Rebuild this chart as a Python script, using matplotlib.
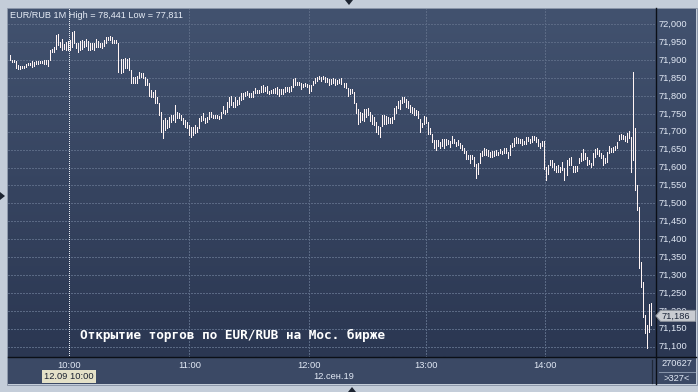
import numpy as np
import matplotlib
matplotlib.use('Agg')
import matplotlib.pyplot as plt
from matplotlib.patches import Polygon, Rectangle
from matplotlib.lines import Line2D
from matplotlib.transforms import blended_transform_factory, IdentityTransform

plt.rcParams['lines.scale_dashes'] = False

# ---------------- data (1-minute bars, EUR/RUB 12.09.19) ----------------
highs = [
    71914, 71900, 71900, 71897, 71886, 71884, 71884, 71884, 71888, 71893,
    71893, 71898, 71896, 71898, 71898, 71898, 71898, 71900, 71899, 71900,
    71928, 71930, 71936, 71970, 71973, 71951, 71960, 71944, 71950, 71954,
    71956, 71978, 71980, 71949, 71947, 71952, 71956, 71954, 71958, 71952,
    71949, 71947, 71949, 71958, 71952, 71949, 71947, 71956, 71964, 71965,
    71967, 71965, 71956, 71956, 71947, 71902, 71902, 71905, 71902, 71905,
    71872, 71854, 71852, 71856, 71868, 71863, 71865, 71854, 71846, 71837,
    71817, 71812, 71817, 71796, 71781, 71756, 71733, 71737, 71733, 71742,
    71747, 71747, 71775, 71756, 71751, 71747, 71737, 71733, 71728, 71719,
    71714, 71714, 71719, 71714, 71737,
    71744, 71753, 71737, 71742, 71756, 71756, 71747, 71747, 71747, 71744,
    71756, 71772, 71761, 71784, 71796, 71800, 71784, 71796, 71789, 71798,
    71809, 71807, 71812, 71815, 71809, 71809, 71815, 71821, 71817, 71817,
    71828, 71831, 71826, 71828, 71815, 71817, 71818, 71821, 71824, 71818,
    71818, 71818, 71824, 71824, 71824, 71828, 71847, 71849, 71840, 71840,
    71837, 71833, 71837, 71833, 71831, 71831, 71842, 71849, 71854, 71856,
    71852, 71856, 71854,
    71849, 71846, 71846, 71849, 71846, 71845, 71846, 71849, 71835, 71837,
    71821, 71818, 71818, 71812, 71779, 71763, 71756, 71751, 71763, 71763,
    71765, 71756, 71747, 71742, 71728, 71716, 71712, 71747, 71747, 71744,
    71740, 71737, 71742, 71765, 71772, 71787, 71789, 71798, 71798, 71791,
    71787, 71775,
    71768, 71765, 71761, 71759, 71735, 71725, 71744, 71742, 71728, 71710,
    71694, 71677, 71677, 71677, 71670, 71679, 71679, 71679, 71677, 71675,
    71688, 71679, 71672, 71677, 71668, 71663, 71656, 71647, 71635, 71635,
    71635, 71630, 71610, 71612, 71640, 71647, 71656, 71651, 71649, 71644,
    71647, 71647, 71649, 71644, 71651, 71647, 71654, 71656, 71644, 71663,
    71669, 71682, 71684, 71682, 71679, 71679, 71675, 71684, 71686, 71679,
    71688, 71688, 71686, 71679, 71669, 71675, 71675, 71601, 71607, 71621,
    71621, 71612, 71604, 71607, 71601, 71616, 71598, 71621, 71626, 71630,
    71604, 71604, 71604, 71628, 71640, 71651, 71640, 71629, 71621, 71612,
    71640, 71651, 71654, 71649, 71642, 71635, 71626, 71644, 71660, 71656,
    71658, 71660, 71672, 71691, 71694, 71691, 71688, 71696, 71703, 71686,
    71868, 71710, 71551, 71491, 71337, 71281, 71188, 71160, 71218, 71222,
]
lows = [
    71900, 71895, 71894, 71877, 71875, 71874, 71877, 71879, 71880, 71886,
    71886, 71880, 71884, 71888, 71888, 71891, 71891, 71890, 71890, 71884,
    71900, 71922, 71924, 71930, 71942, 71938, 71928, 71930, 71928, 71928,
    71928, 71938, 71947, 71933, 71924, 71928, 71930, 71938, 71939, 71928,
    71928, 71930, 71928, 71938, 71938, 71938, 71933, 71939, 71949, 71956,
    71956, 71947, 71947, 71947, 71866, 71865, 71868, 71877, 71879, 71872,
    71837, 71837, 71837, 71837, 71849, 71854, 71849, 71831, 71831, 71800,
    71798, 71796, 71779, 71779, 71747, 71700, 71682, 71705, 71710, 71714,
    71728, 71733, 71728, 71737, 71737, 71733, 71723, 71714, 71710, 71691,
    71686, 71691, 71696, 71700, 71710,
    71731, 71733, 71725, 71728, 71735, 71740, 71737, 71739, 71737, 71736,
    71737, 71751, 71750, 71756, 71770, 71775, 71768, 71770, 71774, 71777,
    71789, 71791, 71800, 71803, 71798, 71798, 71798, 71807, 71809, 71809,
    71812, 71812, 71815, 71807, 71805, 71807, 71809, 71809, 71805, 71801,
    71805, 71805, 71812, 71815, 71812, 71815, 71826, 71831, 71831, 71831,
    71818, 71824, 71828, 71826, 71809, 71815, 71831, 71835, 71843, 71846,
    71843, 71846, 71840,
    71840, 71831, 71833, 71837, 71831, 71833, 71835, 71833, 71826, 71821,
    71800, 71805, 71807, 71779, 71753, 71723, 71728, 71733, 71731, 71742,
    71747, 71731, 71723, 71719, 71700, 71694, 71686, 71716, 71723, 71723,
    71725, 71725, 71725, 71735, 71751, 71765, 71763, 71779, 71784, 71770,
    71765, 71756,
    71751, 71747, 71747, 71737, 71700, 71712, 71722, 71725, 71694, 71694,
    71670, 71656, 71649, 71660, 71654, 71660, 71656, 71663, 71666, 71658,
    71669, 71668, 71660, 71663, 71654, 71649, 71640, 71623, 71623, 71614,
    71623, 71604, 71570, 71582, 71614, 71632, 71635, 71635, 71632, 71630,
    71630, 71632, 71635, 71635, 71640, 71638, 71640, 71640, 71628, 71635,
    71658, 71660, 71669, 71668, 71669, 71663, 71666, 71666, 71675, 71668,
    71672, 71677, 71672, 71660, 71654, 71660, 71595, 71565, 71582, 71607,
    71602, 71593, 71589, 71589, 71589, 71593, 71565, 71579, 71607, 71607,
    71589, 71589, 71591, 71612, 71619, 71621, 71623, 71607, 71610, 71601,
    71607, 71630, 71638, 71632, 71626, 71607, 71612, 71616, 71642, 71644,
    71644, 71649, 71654, 71677, 71679, 71679, 71675, 71672, 71682, 71589,
    71621, 71537, 71481, 71319, 71267, 71184, 71139, 71095, 71142, 71160,
]
price_levels = list(range(71100, 72001, 50))
hour_labels = ['10:00', '11:00', '12:00', '13:00', '14:00']
hour_pos = [29.5, 89.3, 148.7, 207.0, 266.5]   # bar index of each hour
last_price = 71186
title_text = 'EUR/RUB 1M High = 78,441 Low = 77,811'
annotation = 'Открытие торгов по EUR/RUB на Мос. бирже'
date_label = '12.сен.19'
cursor_label = '12.09 10:00'
volume_label = '270627'
count_label = '>327<'

# ---------------- figure ----------------
W, H = 698, 392
fig = plt.figure(figsize=(W / 100, H / 100), dpi=100, facecolor='#c4cdd9')
FONT = 'Liberation Sans'
TXT = '#e2e9f5'


def fx(px):
    return px / W


def fy(py):
    return 1 - py / H


def px_axes(x0, y0, x1, y1, **kw):
    return fig.add_axes([fx(x0), fy(y1), (x1 - x0) / W, (y1 - y0) / H], **kw)


# panel background with vertical gradient
bg = px_axes(8, 8, 696, 357)
bg.set_axis_off()
grad = np.linspace(0, 1, 256).reshape(-1, 1)
c_top = np.array([0x42, 0x52, 0x6f]) / 255
c_bot = np.array([0x2b, 0x37, 0x52]) / 255
img = c_top[None, None, :] * (1 - grad[:, :, None]) + c_bot[None, None, :] * grad[:, :, None]
bg.imshow(img, aspect='auto', extent=[0, 1, 0, 1], transform=bg.transAxes, interpolation='bilinear')
bg.set_xlim(0, 1)
bg.set_ylim(0, 1)

# bottom time panel
bot = px_axes(8, 357, 696, 384)
bot.set_axis_off()
bot.add_patch(Rectangle((0, 0), 1, 1, transform=bot.transAxes, facecolor='#3b4965', edgecolor='none'))

# main axes
ax = px_axes(8, 8, 655, 356.5)
ax.patch.set_alpha(0)
x = np.arange(len(highs))
ax.set_xlim(-1.0, 321.05)
ax.set_ylim(71072.5, 72045.5)
for s in ax.spines.values():
    s.set_visible(False)
ax.set_xticks([])
ax.set_yticks([])

grid_c = '#5a6984'
for lv in price_levels:
    ax.axhline(lv, color=grid_c, lw=0.72, dashes=(1.44, 1.44), antialiased=False, zorder=1)
for p in hour_pos[1:]:
    ax.axvline(p, color=grid_c, lw=0.72, dashes=(1.44, 1.44), antialiased=False, zorder=1)
ax.axvline(hour_pos[0], color='#e6eaf2', lw=0.72, dashes=(0.72, 1.44), antialiased=False, zorder=2)

ax.vlines(x, lows, highs, colors='#fff4f4', lw=0.55, antialiased=False, zorder=3)

# price labels on the right
trY = blended_transform_factory(fig.transFigure, ax.transData)
for lv in price_levels:
    fig.text(fx(658.3), lv, f'{lv:,}', transform=trY, ha='left', va='center',
             fontsize=6.7, family=FONT, color=TXT, zorder=3)

# last price tag (drawn over the neighbouring scale label, as in the terminal)
fig.canvas.draw()
yc = ax.transData.transform((0, last_price))[1]
tag = Polygon([(655.8, yc), (660.5, yc + 5.5), (695.5, yc + 5.5), (695.5, yc - 5.5), (660.5, yc - 5.5)],
              closed=True, facecolor='#c9ccd2', edgecolor='#8c929c', lw=0.7,
              transform=IdentityTransform(), zorder=6)
fig.patches.append(tag)
fig.text(fx(661.5), last_price, f'{last_price:,}', transform=trY, ha='left', va='center',
         fontsize=6.7, family=FONT, color='#1b2539', zorder=7)

# header text
fig.text(fx(10.5), fy(15.2), title_text, ha='left', va='center', fontsize=6.6,
         family=FONT, color='#e6ecf6')

# annotation
fig.text(fx(80), fy(335.7), annotation, ha='left', va='center', fontsize=9.2,
         family='DejaVu Sans Mono', fontweight='bold', color='#ffffff')

# time axis labels
trX = blended_transform_factory(ax.transData, fig.transFigure)
for p, lab in zip(hour_pos, hour_labels):
    fig.text(p, fy(365.8), lab, transform=trX, ha='center', va='center',
             fontsize=6.7, family=FONT, color=TXT)
fig.text(hour_pos[0], fy(376.8), cursor_label, transform=trX, ha='center', va='center',
         fontsize=6.7, family=FONT, color='#1a2130',
         bbox=dict(boxstyle='square,pad=0.22', facecolor='#e4e1c8', edgecolor='none'))
fig.text(fx(333.7), fy(376.8), date_label, ha='center', va='center',
         fontsize=6.7, family=FONT, color=TXT)

# bottom right info box
fig.text(fx(676.5), fy(363.6), volume_label, ha='center', va='center',
         fontsize=6.7, family=FONT, color=TXT)
fig.text(fx(676.5), fy(378.6), count_label, ha='center', va='center',
         fontsize=6.7, family=FONT, color=TXT)
fig.lines.append(Line2D([fx(659), fx(695)], [fy(371.7), fy(371.7)], transform=fig.transFigure,
                        color='#8592a8', lw=0.72))
fig.lines.append(Line2D([fx(651.5), fx(651.5)], [fy(360), fy(383)], transform=fig.transFigure,
                        color='#1f2838', lw=0.9))

# separators
fig.lines.append(Line2D([fx(655.5), fx(655.5)], [fy(8), fy(384)], transform=fig.transFigure,
                        color='#0b0f17', lw=1.0))
fig.lines.append(Line2D([fx(8), fx(696)], [fy(356.8), fy(356.8)], transform=fig.transFigure,
                        color='#0b0f17', lw=1.0))
# panel outline
fig.patches.append(Rectangle((fx(7.5), fy(384.5)), (696.5 - 7.5) / W, (384.5 - 7.5) / H,
                             transform=fig.transFigure, facecolor='none', edgecolor='#8d98aa', lw=0.7))

# small triangle markers on the frame
tri_c = '#1d2431'
fig.patches.append(Polygon([(fx(345), fy(0)), (fx(353), fy(0)), (fx(349), fy(5))], closed=True,
                           transform=fig.transFigure, facecolor=tri_c, edgecolor='none'))
fig.patches.append(Polygon([(fx(348), fy(392)), (fx(356), fy(392)), (fx(352), fy(387))], closed=True,
                           transform=fig.transFigure, facecolor=tri_c, edgecolor='none'))
fig.patches.append(Polygon([(fx(0), fy(192)), (fx(0), fy(200)), (fx(5), fy(196))], closed=True,
                           transform=fig.transFigure, facecolor=tri_c, edgecolor='none'))

fig.savefig('out.png', dpi=100, facecolor=fig.get_facecolor())
